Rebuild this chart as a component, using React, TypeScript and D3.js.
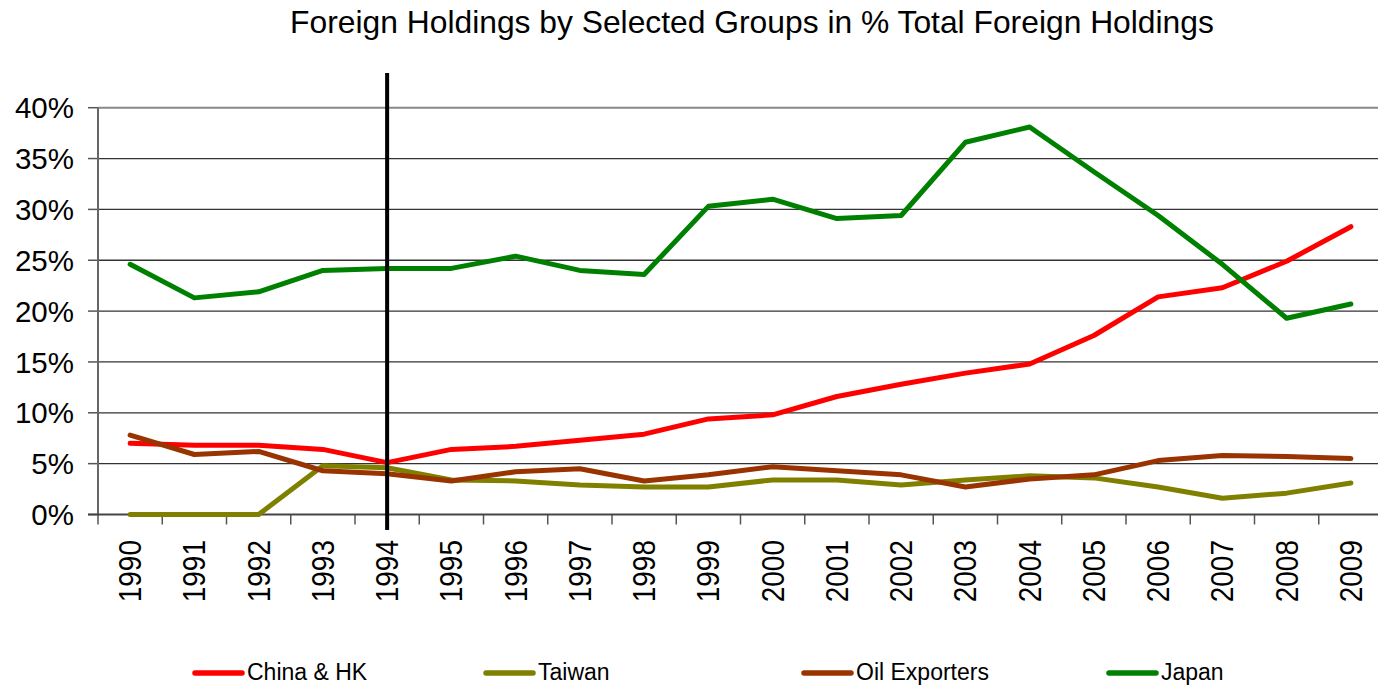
import React from "react";
import * as d3 from "d3";

const years = ["1990","1991","1992","1993","1994","1995","1996","1997","1998","1999","2000","2001","2002","2003","2004","2005","2006","2007","2008","2009"];
const chinaHK = [7.0,6.8,6.8,6.4,5.1,6.4,6.7,7.3,7.9,9.4,9.8,11.6,12.8,13.9,14.8,17.6,21.4,22.3,24.9,28.3];
const taiwan = [0,0,0,4.8,4.6,3.4,3.3,2.9,2.7,2.7,3.4,3.4,2.9,3.4,3.8,3.6,2.7,1.6,2.1,3.1];
const oilExporters = [7.8,5.9,6.2,4.3,4.0,3.3,4.2,4.5,3.3,3.9,4.7,4.3,3.9,2.7,3.5,3.9,5.3,5.8,5.7,5.5];
const japan = [24.6,21.3,21.9,24.0,24.2,24.2,25.4,24.0,23.6,30.3,31.0,29.1,29.4,36.6,38.1,33.7,29.4,24.6,19.3,20.7];
const yTicks = [0,5,10,15,20,25,30,35,40];
const markerYear = "1994";

const series = [
  { name: "China & HK", values: chinaHK, color: "#FF0000" },
  { name: "Taiwan", values: taiwan, color: "#808000" },
  { name: "Oil Exporters", values: oilExporters, color: "#993300" },
  { name: "Japan", values: japan, color: "#008000" },
];

const W = 1378, H = 686;
const left = 98, right = 1383, top = 107.7, bottom = 514.5;
const FONT = "'Liberation Sans', Arial, sans-serif";

export default function App() {
  const x = d3.scaleBand<string>().domain(years).range([left, right]).padding(0);
  const cx = (yr: string) => (x(yr) as number) + x.bandwidth() / 2;
  const y = d3.scaleLinear().domain([0, 40]).range([bottom, top]);
  const line = d3.line<number>().x((_, i) => cx(years[i])).y((v) => y(v));
  const legendX = [195, 486, 804, 1109];
  const boundaries = years.map((yr) => x(yr) as number).concat([right]);

  return (
    <svg width={W} height={H} style={{ position: "absolute", left: 0, top: 0, background: "#fff" }} fontFamily={FONT}>
      <text x={752} y={33} fontSize={31.8} textAnchor="middle" fill="#000">
        Foreign Holdings by Selected Groups in % Total Foreign Holdings
      </text>
      {yTicks.map((t) => (
        <g key={t}>
          {t > 0 && (
            <line x1={left} x2={right} y1={y(t)} y2={y(t)}
              stroke={t === 40 ? "#888" : "#333"} strokeWidth={t === 40 ? 2 : 1.3} />
          )}
          <line x1={left - 10} x2={left} y1={y(t)} y2={y(t)} stroke="#555" strokeWidth={1.5} />
          <text x={74} y={y(t)} dy="0.36em" fontSize={29.5} textAnchor="end" fill="#000">{t}%</text>
        </g>
      ))}
      <line x1={left} x2={left} y1={top} y2={bottom} stroke="#666" strokeWidth={2} />
      {boundaries.map((b, i) => (
        <line key={i} x1={b} x2={b} y1={bottom} y2={bottom + 10} stroke="#555" strokeWidth={1.5} />
      ))}
      <line x1={left - 10} x2={right} y1={bottom} y2={bottom} stroke="#444" strokeWidth={2} />
      {years.map((yr) => (
        <text key={yr} transform={`translate(${cx(yr)},540) rotate(-90) scale(1,1.1)`} dy="0.36em"
          fontSize={28} textAnchor="end" fill="#000">{yr}</text>
      ))}
      {series.map((s) => (
        <path key={s.name} d={line(s.values) || ""} fill="none" stroke={s.color}
          strokeWidth={5} strokeLinejoin="round" strokeLinecap="round" />
      ))}
      <line x1={cx(markerYear)} x2={cx(markerYear)} y1={73} y2={530} stroke="#000" strokeWidth={4} />
      {series.map((s, i) => (
        <g key={s.name}>
          <line x1={legendX[i]} x2={legendX[i] + 47} y1={673} y2={673} stroke={s.color}
            strokeWidth={5.5} strokeLinecap="round" />
          <text x={legendX[i] + 52} y={680} fontSize={23} fill="#000">{s.name}</text>
        </g>
      ))}
    </svg>
  );
}
